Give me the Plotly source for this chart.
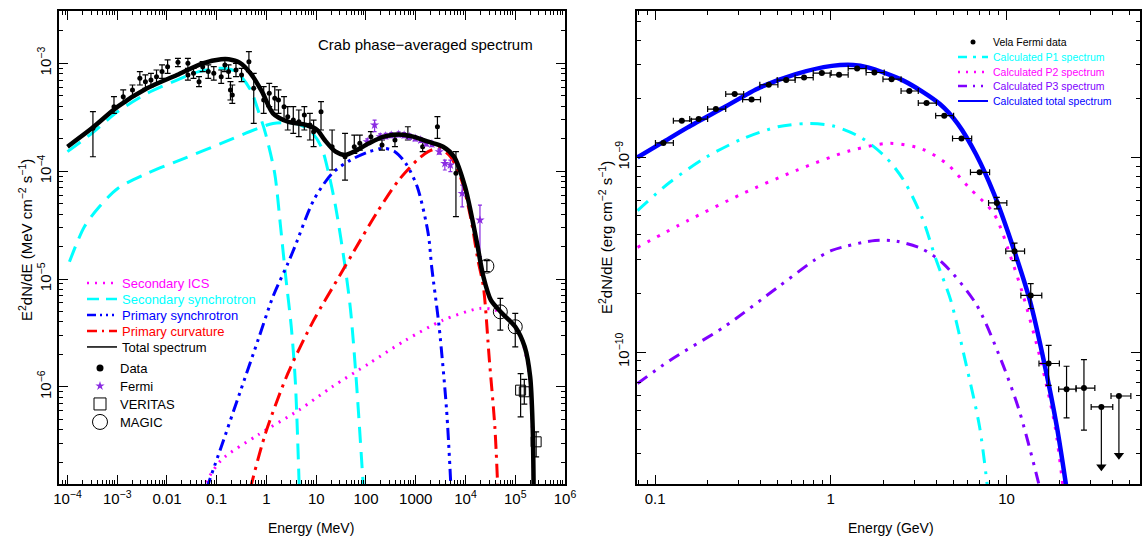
import plotly.graph_objects as go

# ======================= LEFT PANEL: Crab (log10 E [MeV], log10 E^2dN/dE [MeV cm^-2 s^-1]) =======================
tot_lx = [-4.0, -3.51, -2.99, -2.40, -1.80, -1.28, -0.91, -0.76, -0.54, -0.32, -0.09, 0.13, 0.43, 0.80, 1.02,
          1.17, 1.39, 1.58, 1.76, 2.06, 2.36, 2.66, 2.95, 3.25, 3.55, 3.77, 3.99, 4.22, 4.36, 4.51, 4.74, 5.0,
          5.19, 5.30, 5.35, 5.37]
tot_ly = [-3.773, -3.603, -3.402, -3.232, -3.108, -3.0, -2.963, -2.963, -2.994, -3.093, -3.263, -3.464, -3.541,
          -3.572, -3.618, -3.711, -3.819, -3.850, -3.819, -3.742, -3.680, -3.659, -3.680, -3.727, -3.773, -3.866,
          -4.144, -4.639, -4.979, -5.195, -5.319, -5.442, -5.628, -5.906, -6.370, -6.95]

syn1_lx = [-4.0, -3.51, -2.99, -2.40, -1.80, -1.36, -0.91, -0.61, -0.32, -0.17, -0.02, 0.165, 0.28, 0.38, 0.50, 0.58, 0.66]
syn1_ly = [-3.819, -3.649, -3.448, -3.278, -3.155, -3.077, -3.046, -3.077, -3.247, -3.433, -3.649, -4.02, -4.50,
           -4.95, -5.45, -5.95, -6.95]

syn2_lx = [-3.96, -3.66, -3.36, -2.99, -2.40, -1.65, -0.91, -0.17, 0.13, 0.57, 0.87, 1.10, 1.25, 1.39, 1.58, 1.69, 1.80, 1.95]
syn2_ly = [-4.840, -4.515, -4.330, -4.160, -4.020, -3.881, -3.742, -3.603, -3.557, -3.557, -3.618, -3.773, -4.020,
           -4.330, -4.886, -5.288, -5.906, -6.95]

psyn_lx = [-1.21, -0.91, -0.54, -0.17, 0.13, 0.43, 0.57, 0.95, 1.32, 1.69, 2.06, 2.36, 2.58, 2.80, 3.03, 3.25,
           3.32, 3.47, 3.62, 3.71]
psyn_ly = [-6.95, -6.556, -6.061, -5.566, -5.164, -4.855, -4.701, -4.268, -4.020, -3.897, -3.819, -3.788, -3.819,
           -3.928, -4.144, -4.577, -4.886, -5.442, -6.215, -6.95]

pcur_lx = [-0.33, -0.02, 0.43, 0.95, 1.47, 1.76, 2.21, 2.66, 3.03, 3.25, 3.47, 3.70, 3.92, 4.10, 4.25, 4.36, 4.48, 4.59, 4.65]
pcur_ly = [-6.95, -6.431, -5.875, -5.381, -4.970, -4.740, -4.391, -4.082, -3.897, -3.819, -3.788, -3.866, -4.082,
           -4.422, -4.824, -5.072, -5.752, -6.370, -6.95]

ics_lx = [-1.30, -0.91, -0.17, 0.65, 1.32, 2.06, 2.80, 3.55, 4.29, 4.59, 4.89, 5.11, 5.26, 5.33, 5.37]
ics_ly = [-6.95, -6.679, -6.445, -6.215, -5.999, -5.783, -5.566, -5.381, -5.272, -5.288, -5.381, -5.535, -5.814,
          -6.215, -6.95]

# Data points (black)
d_lx = [-3.488, -3.065, -2.879, -2.693, -2.545, -2.433, -2.322, -2.210, -2.099, -1.987,
        -1.779, -1.579, -1.579, -1.467, -1.356, -1.282, -1.170, -1.059, -0.910, -0.836,
        -0.724, -0.687, -0.762, -0.613, -0.501, -0.353, -0.256, -0.056, 0.056, 0.167,
        0.241, 0.353, 0.427, 0.539, 0.650, 0.761, 0.873, 0.947, 1.096, 1.319,
        1.579, 1.765, 1.876, 2.099, 2.322, 2.582, 2.842, 3.139, 3.436, 3.808]
d_ly = [-3.603, -3.402, -3.309, -3.247, -3.139, -3.170, -3.155, -3.124, -3.077, -3.031,
        -2.991, -3.0, -3.108, -3.093, -3.170, -3.031, -3.077, -3.093, -3.124, -3.015,
        -3.247, -3.294, -3.077, -3.062, -3.108, -2.985, -3.232, -3.340, -3.278, -3.325,
        -3.340, -3.402, -3.495, -3.526, -3.541, -3.479, -3.572, -3.634, -3.448, -3.773,
        -3.866, -3.773, -3.742, -3.680, -3.758, -3.711, -3.680, -3.773, -3.588, -4.020]
d_ly_hi = [-3.448, -3.309, -3.247, -3.201, -3.077, -3.108, -3.093, -3.062, -3.015, -2.969,
           -2.954, -2.954, -3.062, -3.046, -3.124, -2.985, -3.015, -3.031, -3.062, -2.954,
           -3.170, -3.201, -3.015, -3.0, -3.046, -2.892, -3.093, -3.216, -3.186, -3.216,
           -3.247, -3.309, -3.402, -3.402, -3.433, -3.402, -3.464, -3.526, -3.356, -3.618,
           -3.649, -3.665, -3.665, -3.634, -3.711, -3.649, -3.588, -3.727, -3.495, -3.819]
d_ly_lo = [-3.866, -3.464, -3.371, -3.309, -3.201, -3.232, -3.216, -3.186, -3.139, -3.093,
           -3.031, -3.046, -3.155, -3.139, -3.216, -3.077, -3.139, -3.155, -3.186, -3.077,
           -3.340, -3.371, -3.139, -3.124, -3.170, -3.077, -3.557, -3.464, -3.402, -3.433,
           -3.464, -3.526, -3.618, -3.649, -3.680, -3.618, -3.711, -3.773, -3.618, -3.989,
           -4.082, -3.835, -3.804, -3.727, -3.804, -3.773, -3.711, -3.819, -3.696, -4.422]

# Fermi (purple stars)
f_lx = [2.025, 2.173, 2.285, 2.396, 2.507, 2.656, 2.767, 2.879, 2.990, 3.102, 3.213, 3.325, 3.473, 3.585, 3.696, 3.934, 4.291]
f_ly = [-3.727, -3.572, -3.680, -3.674, -3.665, -3.659, -3.665, -3.680, -3.696, -3.711, -3.742, -3.748, -3.819,
        -3.928, -3.943, -4.206, -4.453]
f_ly_hi = [-3.70, -3.526, -3.655, -3.650, -3.642, -3.636, -3.642, -3.656, -3.672, -3.688, -3.718, -3.724, -3.795,
           -3.897, -3.897, -4.129, -4.314]
f_ly_lo = [-3.75, -3.634, -3.705, -3.698, -3.688, -3.682, -3.688, -3.704, -3.720, -3.734, -3.766, -3.772, -3.843,
           -3.989, -4.005, -4.330, -4.793]

# MAGIC (open circles) and VERITAS (open squares)
m_lx = [4.43, 4.70, 5.00]
m_ly = [-4.88, -5.304, -5.442]
m_ly_hi = [-4.83, -5.180, -5.319]
m_ly_lo = [-4.93, -5.473, -5.628]
v_lx = [5.108, 5.182, 5.420]
v_ly = [-6.030, -6.045, -6.509]
v_ly_hi = [-5.876, -5.93, -6.416]
v_ly_lo = [-6.277, -6.16, -6.648]

# ======================= RIGHT PANEL: Vela (log10 E [GeV], log10 E^2dN/dE [erg cm^-2 s^-1]) =======================
rtot_lx = [-1.10, -0.957, -0.814, -0.609, -0.403, -0.199, 0.006, 0.129, 0.211, 0.416, 0.621, 0.724, 0.826, 0.929,
           1.031, 1.133, 1.216, 1.287, 1.345]
rtot_ly = [-9.0, -8.923, -8.846, -8.744, -8.641, -8.572, -8.530, -8.525, -8.538, -8.607, -8.726, -8.829, -8.983,
           -9.188, -9.444, -9.735, -10.06, -10.385, -10.72]

p1_lx = [-1.10, -0.916, -0.711, -0.506, -0.301, -0.137, 0.006, 0.170, 0.314, 0.416, 0.519, 0.601, 0.683, 0.765, 0.847, 0.895]
p1_ly = [-9.273, -9.128, -9.0, -8.906, -8.843, -8.826, -8.837, -8.897, -9.0, -9.119, -9.308, -9.530, -9.735,
         -10.043, -10.385, -10.72]

p2_lx = [-1.10, -0.814, -0.506, -0.199, 0.109, 0.334, 0.519, 0.662, 0.785, 0.929, 1.031, 1.092, 1.195, 1.277, 1.325]
p2_ly = [-9.462, -9.325, -9.188, -9.068, -8.966, -8.928, -8.957, -9.034, -9.154, -9.290, -9.530, -9.700, -10.043,
         -10.385, -10.72]

p3_lx = [-1.10, -0.916, -0.609, -0.301, -0.096, 0.006, 0.252, 0.375, 0.519, 0.642, 0.826, 0.970, 1.072, 1.174, 1.195]
p3_ly = [-10.162, -10.043, -9.872, -9.667, -9.530, -9.478, -9.427, -9.431, -9.470, -9.547, -9.752, -10.043,
         -10.299, -10.641, -10.72]

vela_lx = [-0.953, -0.848, -0.752, -0.654, -0.547, -0.451, -0.353, -0.254, -0.152, -0.051, 0.047, 0.150, 0.248,
           0.346, 0.447, 0.545, 0.646, 0.744, 0.847, 0.945, 1.046, 1.138, 1.240, 1.342, 1.441]
vela_ly = [-8.926, -8.812, -8.803, -8.752, -8.675, -8.703, -8.627, -8.603, -8.590, -8.567, -8.576, -8.544, -8.564,
           -8.598, -8.659, -8.721, -8.786, -8.903, -9.077, -9.234, -9.482, -9.709, -10.059, -10.191, -10.185]
vela_lx_lo = [-0.998, -0.896, -0.803, -0.701, -0.598, -0.502, -0.404, -0.305, -0.203, -0.100, -0.004, 0.099, 0.201,
              0.297, 0.400, 0.498, 0.597, 0.693, 0.795, 0.898, 0.996, 1.082, 1.185, 1.297, 1.396]
vela_lx_hi = [-0.896, -0.793, -0.701, -0.598, -0.496, -0.400, -0.301, -0.203, -0.100, 0.002, 0.099, 0.201, 0.304,
              0.400, 0.498, 0.601, 0.699, 0.802, 0.904, 1.002, 1.103, 1.201, 1.301, 1.396, 1.503]
vela_ly_hi = [-8.926, -8.812, -8.803, -8.752, -8.675, -8.703, -8.627, -8.603, -8.590, -8.567, -8.576, -8.544, -8.564,
              -8.598, -8.659, -8.721, -8.786, -8.903, -9.077, -9.205, -9.441, -9.649, -9.966, -10.073, -10.039]
vela_ly_lo = [-8.926, -8.812, -8.803, -8.752, -8.675, -8.703, -8.627, -8.603, -8.590, -8.567, -8.576, -8.544, -8.564,
              -8.598, -8.659, -8.721, -8.786, -8.903, -9.077, -9.265, -9.530, -9.777, -10.171, -10.338, -10.401]

# upper limits
ul_lx = [1.540, 1.640]
ul_ly = [-10.282, -10.226]
ul_lx_lo = [1.482, 1.595]
ul_lx_hi = [1.605, 1.708]
ul_tip_ly = [-10.59, -10.53]

# tick labels
left_xtick_text = ["10<sup>\u22124</sup>", "10<sup>\u22123</sup>", "0.01", "0.1", "1", "10", "100", "1000",
                   "10<sup>4</sup>", "10<sup>5</sup>", "10<sup>6</sup>"]
left_ytick_text = ["10<sup>\u22126</sup>", "10<sup>\u22125</sup>", "10<sup>\u22124</sup>", "10<sup>\u22123</sup>"]
right_xtick_text = ["0.1", "1", "10"]
right_ytick_text = ["10<sup>\u221210</sup>", "10<sup>\u22129</sup>"]


def p10(a):
    return [10 ** v for v in a]


def err(center, hi, lo):
    c = p10(center)
    return ([10 ** h - v for h, v in zip(hi, c)], [v - 10 ** l for l, v in zip(lo, c)])


FONT = "Liberation Sans"
CYAN = "#00ffff"
MAG = "#ff00ff"
BLUE = "#0000ff"
RED = "#ff0000"
PURP = "#8a2be2"
VIOL = "#8000ff"
W, H = 1144, 537

fig = go.Figure()


def col(txt, c):
    return '<span style="color:%s">%s</span>' % (c, txt)


def proxy(name, line=None, marker=None, leg="legend", mode="lines"):
    fig.add_trace(go.Scatter(x=[None], y=[None], mode=mode, line=line, marker=marker, name=name,
                             legend=leg, showlegend=True, hoverinfo="skip"))


DASH_ICS = "2px,6px"
DASH_SYN = "16px,9px"
DASH_PSYN = "12px,5px,3px,5px,3px,5px,3px,5px"
DASH_PCUR = "14px,6px,3px,6px"
DASH_P1 = "14px,8px,3px,8px"
DASH_P2 = "3px,8px"
DASH_P3 = "12px,7px,3px,7px,3px,7px"

# ---- left model curves
fig.add_trace(go.Scatter(x=p10(ics_lx), y=p10(ics_ly), mode="lines", showlegend=False,
                         line=dict(color=MAG, width=3, dash=DASH_ICS, shape="spline", smoothing=0.8)))
fig.add_trace(go.Scatter(x=p10(syn2_lx), y=p10(syn2_ly), mode="lines", showlegend=False,
                         line=dict(color=CYAN, width=3, dash=DASH_SYN, shape="spline", smoothing=0.8)))
fig.add_trace(go.Scatter(x=p10(syn1_lx), y=p10(syn1_ly), mode="lines", showlegend=False,
                         line=dict(color=CYAN, width=3, dash=DASH_SYN, shape="spline", smoothing=0.8)))
fig.add_trace(go.Scatter(x=p10(psyn_lx), y=p10(psyn_ly), mode="lines", showlegend=False,
                         line=dict(color=BLUE, width=3, dash=DASH_PSYN, shape="spline", smoothing=0.8)))
fig.add_trace(go.Scatter(x=p10(pcur_lx), y=p10(pcur_ly), mode="lines", showlegend=False,
                         line=dict(color=RED, width=3, dash=DASH_PCUR, shape="spline", smoothing=0.8)))

# ---- left data
ep, em = err(d_ly, d_ly_hi, d_ly_lo)
fig.add_trace(go.Scatter(x=p10(d_lx), y=p10(d_ly), mode="markers", marker=dict(color="black", size=5),
                         error_y=dict(type="data", array=ep, arrayminus=em, color="black", thickness=1.2, width=3),
                         showlegend=False))
ep, em = err(f_ly, f_ly_hi, f_ly_lo)
fig.add_trace(go.Scatter(x=p10(f_lx), y=p10(f_ly), mode="markers", marker=dict(color=PURP, size=7, symbol="star"),
                         error_y=dict(type="data", array=ep, arrayminus=em, color=PURP, thickness=1.2, width=2),
                         showlegend=False))
ep, em = err(v_ly, v_ly_hi, v_ly_lo)
fig.add_trace(go.Scatter(x=p10(v_lx), y=p10(v_ly), mode="markers",
                         marker=dict(color="black", size=10, symbol="square-open", line=dict(color="black", width=1)),
                         error_y=dict(type="data", array=ep, arrayminus=em, color="black", thickness=1.2, width=3),
                         showlegend=False))
ep, em = err(m_ly, m_ly_hi, m_ly_lo)
fig.add_trace(go.Scatter(x=p10(m_lx), y=p10(m_ly), mode="markers",
                         marker=dict(color="black", size=14, symbol="circle-open", line=dict(color="black", width=1)),
                         error_y=dict(type="data", array=ep, arrayminus=em, color="black", thickness=1.2, width=3),
                         showlegend=False))
fig.add_trace(go.Scatter(x=p10(tot_lx), y=p10(tot_ly), mode="lines", showlegend=False,
                         line=dict(color="black", width=4.5, shape="spline", smoothing=0.8)))

# ---- right panel
fig.add_trace(go.Scatter(x=p10(p1_lx), y=p10(p1_ly), xaxis="x2", yaxis="y2", mode="lines", showlegend=False,
                         line=dict(color=CYAN, width=3, dash=DASH_P1, shape="spline", smoothing=0.8)))
fig.add_trace(go.Scatter(x=p10(p2_lx), y=p10(p2_ly), xaxis="x2", yaxis="y2", mode="lines", showlegend=False,
                         line=dict(color=MAG, width=3, dash=DASH_P2, shape="spline", smoothing=0.8)))
fig.add_trace(go.Scatter(x=p10(p3_lx), y=p10(p3_ly), xaxis="x2", yaxis="y2", mode="lines", showlegend=False,
                         line=dict(color=VIOL, width=3, dash=DASH_P3, shape="spline", smoothing=0.8)))
fig.add_trace(go.Scatter(x=p10(rtot_lx), y=p10(rtot_ly), xaxis="x2", yaxis="y2", mode="lines", showlegend=False,
                         line=dict(color=BLUE, width=4.5, shape="spline", smoothing=0.8)))

exp_, exm_ = err(vela_lx, vela_lx_hi, vela_lx_lo)
eyp, eym = err(vela_ly, vela_ly_hi, vela_ly_lo)
fig.add_trace(go.Scatter(x=p10(vela_lx), y=p10(vela_ly), xaxis="x2", yaxis="y2", mode="markers",
                         marker=dict(color="black", size=6), showlegend=False,
                         error_x=dict(type="data", array=exp_, arrayminus=exm_, color="black", thickness=1.2, width=3),
                         error_y=dict(type="data", array=eyp, arrayminus=eym, color="black", thickness=1.2, width=3)))
uxp, uxm = err(ul_lx, ul_lx_hi, ul_lx_lo)
uyp, uym = err(ul_ly, ul_ly, ul_tip_ly)
fig.add_trace(go.Scatter(x=p10(ul_lx), y=p10(ul_ly), xaxis="x2", yaxis="y2", mode="markers",
                         marker=dict(color="black", size=6), showlegend=False,
                         error_x=dict(type="data", array=uxp, arrayminus=uxm, color="black", thickness=1.2, width=3),
                         error_y=dict(type="data", array=uyp, arrayminus=uym, color="black", thickness=1.2, width=0)))
fig.add_trace(go.Scatter(x=p10(ul_lx), y=p10(ul_tip_ly), xaxis="x2", yaxis="y2", mode="markers",
                         marker=dict(color="black", size=9, symbol="triangle-down"), showlegend=False))

# ---- legends: one legend per entry so spacing can follow the reference
left_entries = [
    (col("Secondary ICS", MAG), dict(color=MAG, width=2.5, dash=DASH_ICS), None, 283),
    (col("Secondary synchrotron", CYAN), dict(color=CYAN, width=2.5, dash="12px,7px"), None, 299),
    (col("Primary synchrotron", BLUE), dict(color=BLUE, width=2.5, dash="9px,4px,2px,4px,2px,4px,2px,4px"), None, 315),
    (col("Primary curvature", RED), dict(color=RED, width=2.5, dash="10px,5px,2px,5px"), None, 331),
    ("Total spectrum", dict(color="black", width=1.5), None, 347),
]
marker_entries = [
    ("Data", dict(color="black", size=7, symbol="circle"), 368),
    ("Fermi", dict(color=PURP, size=7, symbol="star"), 386),
    ("VERITAS", dict(color="black", size=12, symbol="square-open", line=dict(width=1)), 404),
    ("MAGIC", dict(color="black", size=15, symbol="circle-open", line=dict(width=1)), 422),
]
right_entries = [
    ("Vela Fermi data", None, dict(color="black", size=5), 42),
    (col("Calculated P1 spectrum", CYAN), dict(color=CYAN, width=2.5, dash="9px,6px,3px,6px"), None, 57),
    (col("Calculated P2 spectrum", MAG), dict(color=MAG, width=2.5, dash="2px,6px"), None, 72),
    (col("Calculated P3 spectrum", VIOL), dict(color=VIOL, width=2.5, dash="9px,6px,2px,6px,2px,6px"), None, 86),
    (col("Calculated total spectrum", BLUE), dict(color=BLUE, width=2), None, 101),
]

legends = {}
k = 1
for name, line, mk, yc in left_entries:
    key = "legend" if k == 1 else "legend%d" % k
    proxy(name, line=line, leg=key)
    legends[key] = dict(x=82 / W, y=1 - yc / H, size=13)
    k += 1
for name, mk, yc in marker_entries:
    key = "legend%d" % k
    proxy(name, marker=mk, leg=key, mode="markers")
    legends[key] = dict(x=80 / W, y=1 - yc / H, size=13)
    k += 1
for name, line, mk, yc in right_entries:
    key = "legend%d" % k
    if mk is not None:
        proxy(name, marker=mk, leg=key, mode="markers")
    else:
        proxy(name, line=line, leg=key)
    legends[key] = dict(x=953 / W, y=1 - yc / H, size=10.5)
    k += 1

for key, v in legends.items():
    fig.update_layout({key: dict(x=v["x"], y=v["y"], xanchor="left", yanchor="middle", bgcolor="rgba(0,0,0,0)",
                                 borderwidth=0, font=dict(family=FONT, size=v["size"], color="black"))})


def minor_vals(d0, d1):
    return [m * 10 ** d for d in range(d0, d1) for m in range(2, 10)]


def axis(tickvals, ticktext, rng, domain, anchor, angle=0, ticklen=9, overlay=None, labels=True):
    d = dict(type="log", range=rng, domain=domain, tickmode="array", tickvals=tickvals, ticktext=ticktext,
             ticks="inside", ticklen=ticklen, tickwidth=1.2, tickcolor="black",
             showline=True, linecolor="black", linewidth=1.6, mirror="allticks",
             showgrid=False, zeroline=False, tickangle=angle, automargin=False, anchor=anchor,
             showticklabels=labels, fixedrange=True,
             tickfont=dict(family=FONT, size=15, color="black"))
    if overlay:
        d["overlaying"] = overlay
    return d


xd1 = [59 / W, 565 / W]
xd2 = [637 / W, 1140 / W]
yd = [53 / H, 526 / H]
LX = [-4.17, 6.0]
LY = [-6.90, -2.515]
RX = [-1.103, 1.76]
RY = [-10.678, -8.248]

mlx, mly, mrx, mry = minor_vals(-5, 6), minor_vals(-7, -2), minor_vals(-2, 2), minor_vals(-11, -8)

fig.update_layout(
    template="none",
    width=W, height=H, margin=dict(l=0, r=0, t=0, b=0, autoexpand=False),
    paper_bgcolor="white", plot_bgcolor="white",
    font=dict(family=FONT, color="black"),
    xaxis=axis([1e-4, 1e-3, 1e-2, 1e-1, 1, 10, 100, 1000, 1e4, 1e5, 1e6], left_xtick_text, LX, xd1, "y"),
    yaxis=axis([1e-6, 1e-5, 1e-4, 1e-3], left_ytick_text, LY, yd, "x", angle=-90),
    xaxis2=axis([0.1, 1, 10], right_xtick_text, RX, xd2, "y2"),
    yaxis2=axis([1e-10, 1e-9], right_ytick_text, RY, yd, "x2", angle=-90),
    # minor-tick axes
    xaxis3=axis(mlx, [""] * len(mlx), LX, xd1, "y", ticklen=4.5, overlay="x", labels=False),
    yaxis3=axis(mly, [""] * len(mly), LY, yd, "x", ticklen=4.5, overlay="y", labels=False),
    xaxis4=axis(mrx, [""] * len(mrx), RX, xd2, "y2", ticklen=4.5, overlay="x2", labels=False),
    yaxis4=axis(mry, [""] * len(mry), RY, yd, "x2", ticklen=4.5, overlay="y2", labels=False),
    annotations=[
        dict(text="Crab phase\u2212averaged spectrum", x=425 / W, y=1 - 44 / H, xref="paper", yref="paper",
             showarrow=False, font=dict(family=FONT, size=15), xanchor="center", yanchor="middle"),
        dict(text="Energy (MeV)", x=311 / W, y=1 - 528 / H, xref="paper", yref="paper",
             showarrow=False, font=dict(family=FONT, size=14), xanchor="center", yanchor="middle"),
        dict(text="Energy (GeV)", x=891 / W, y=1 - 528 / H, xref="paper", yref="paper",
             showarrow=False, font=dict(family=FONT, size=14), xanchor="center", yanchor="middle"),
        dict(text="E<sup>2</sup>dN/dE (MeV cm<sup>\u22122</sup> s<sup>\u22121</sup>)", x=26 / W, y=1 - 240 / H,
             xref="paper", yref="paper", showarrow=False, textangle=-90,
             font=dict(family=FONT, size=15), xanchor="center", yanchor="middle"),
        dict(text="E<sup>2</sup>dN/dE (erg cm<sup>\u22122</sup> s<sup>\u22121</sup>)", x=605 / W, y=1 - 238 / H,
             xref="paper", yref="paper", showarrow=False, textangle=-90,
             font=dict(family=FONT, size=15), xanchor="center", yanchor="middle"),
    ],
)

# dummy traces so the minor-tick axes are drawn
fig.add_trace(go.Scatter(x=[None], y=[None], xaxis="x3", yaxis="y3", showlegend=False, hoverinfo="skip"))
fig.add_trace(go.Scatter(x=[None], y=[None], xaxis="x4", yaxis="y4", showlegend=False, hoverinfo="skip"))

fig.write_html("out.html")
